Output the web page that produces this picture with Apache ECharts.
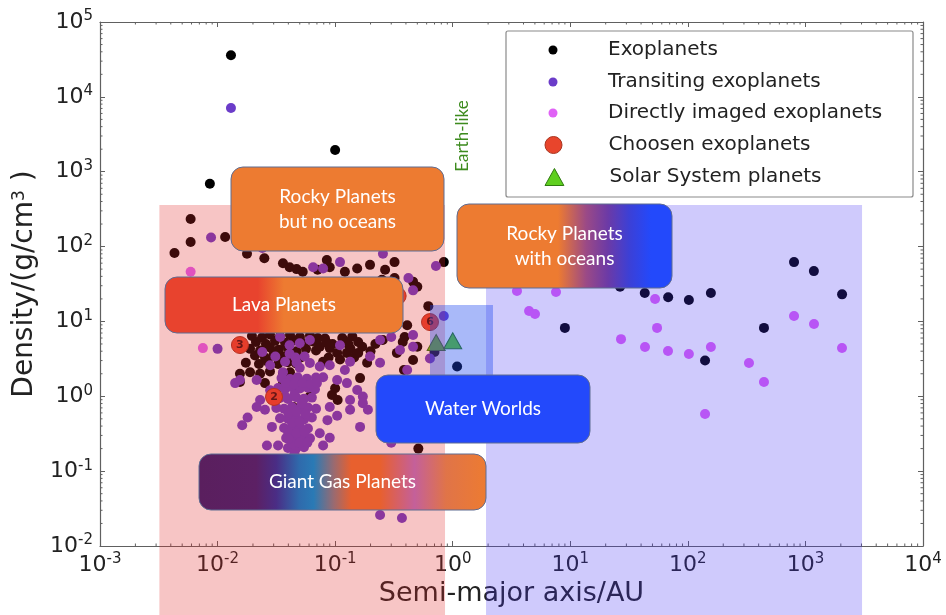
<!DOCTYPE html>
<html><head><meta charset="utf-8">
<script src="https://cdn.jsdelivr.net/npm/echarts@6/dist/echarts.min.js"></script>
<style>html,body{margin:0;padding:0;background:#fff}#c{width:946px;height:615px}</style>
</head><body><div id="c"></div>
<script>
// ---------------- DATA (semi-major axis [AU], density [g/cm^3]) ----------------
const exoplanets = [
 [0.013,36000],[0.10,1950],[0.0086,690],[0.84,62],[1.09,2.5],
 [26.5,29],[43,24],[68,21],[102,19.3],[157,24],[9.0,8.2],[140,3.0],[800,62],[1180,47],[2050,23],[444,8.2],
 [0.0059,233],[0.0059,115],[0.0043,82],[0.0116,134],[0.0178,80],[0.036,60],[0.041,53],[0.047,50],[0.053,46],
 [0.085,66],[0.090,53],[0.071,49],[0.154,51],[0.198,57],[0.46,34],[0.50,29],[0.62,16],[0.41,8.9],[0.39,6.2],
 [0.025,70],[0.121,46],[0.266,49],[0.32,62],[0.25,36],[0.32,38],
 [0.0196,6.4],[0.0239,6.1],[0.0279,6.7],[0.034,6.3],[0.0413,6.6],[0.0502,6.2],[0.0611,6.5],[0.0711,6.0],
 [0.0212,5.3],[0.0258,5.0],[0.0308,5.5],[0.0375,5.2],[0.0447,5.6],[0.053,5.1],[0.0645,5.4],
 [0.0189,4.3],[0.023,4.1],[0.0279,4.5],[0.0332,4.2],[0.0397,4.4],[0.047,4.0],[0.0565,4.3],[0.0688,4.1],
 [0.0208,3.5],[0.0253,3.3],[0.0299,3.6],[0.0361,3.4],[0.043,3.5],[0.0511,3.3],
 [0.0174,2.8],[0.0225,2.7],[0.0268,2.9],[0.0327,2.7],[0.0397,2.85],[0.0465,2.75],
 [0.0155,2.0],[0.0189,2.1],[0.023,2.0],[0.0279,2.15],[0.0361,2.0],[0.0413,2.1],
 [0.048,1.65],[0.036,1.48],[0.0253,1.5],[0.0155,1.55],
 [0.082,5.9],[0.095,5.0],[0.115,6.0],[0.13,4.9],[0.14,6.3],[0.088,3.3],[0.11,3.1],
 [0.12,5.5],[0.135,4.3],[0.145,3.3],[0.17,4.6],[0.2,4.0],[0.22,5.0],[0.09,4.4],[0.085,5.2],
 [0.074,4.6],[0.079,2.9],[0.104,3.8],[0.126,3.8],[0.157,5.3],[0.157,3.8],[0.187,2.8],[0.163,1.75],
 [0.254,5.65],[0.376,5.3],[0.46,3.05],[0.385,2.24],[0.335,3.8],[0.50,4.6],[0.10,1.28],[0.094,1.04],
 [0.105,0.89],[0.51,0.2],[0.70,3.9],[0.061,1.0],[0.044,0.72]
];
const transiting = [
 [0.013,7100],[0.72,55],[0.84,11.8],[0.64,3.2],[0.30,0.24],[0.241,0.026],[0.37,0.0237],[0.0088,132],[0.010,4.3],
 [0.024,96],[0.065,53],[0.079,51],[0.110,62],[0.255,80],[0.42,38],[0.46,26],
 [0.241,5.65],[0.30,6.2],[0.46,6.6],[0.356,4.15],[0.198,3.4],[0.134,2.9],[0.090,2.6],[0.050,5.1],[0.041,3.7],
 [0.047,2.8],[0.036,2.1],[0.241,2.8],[0.26,1.1],[0.293,1.33],[0.46,4.6],[0.41,2.24],
 [0.035,1.75],[0.0413,1.7],[0.048,1.8],[0.0575,1.72],[0.0687,1.78],
 [0.0327,1.29],[0.0375,1.25],[0.043,1.32],[0.0502,1.27],[0.0587,1.3],[0.0674,1.24],
 [0.034,0.95],[0.0397,0.92],[0.0465,0.97],[0.0543,0.93],[0.0634,0.96],
 [0.0316,0.70],[0.0368,0.68],[0.043,0.72],[0.0502,0.69],[0.0587,0.71],[0.0688,0.68],
 [0.034,0.51],[0.0397,0.50],[0.0465,0.53],[0.0543,0.49],[0.0634,0.52],
 [0.0368,0.377],[0.043,0.37],[0.0502,0.385],[0.0587,0.372],
 [0.0383,0.277],[0.0447,0.27],[0.0522,0.283],[0.0611,0.274],
 [0.0397,0.204],[0.0465,0.2],[0.0543,0.208],
 [0.0375,1.0],[0.045,1.05],[0.052,0.8],[0.040,0.6],[0.047,0.62],[0.056,0.58],[0.043,0.44],[0.050,0.45],
 [0.04,0.32],[0.047,0.32],[0.055,0.33],[0.043,0.235],[0.05,0.24],[0.058,0.24],[0.045,0.17],
 [0.038,1.5],[0.045,1.45],[0.053,1.5],[0.062,1.45],
 [0.046,3.3],[0.050,2.4],[0.061,2.78],[0.074,2.5],[0.079,1.8],[0.070,1.5],[0.104,1.65],[0.126,1.5],
 [0.154,1.21],[0.134,0.89],[0.172,0.99],[0.090,0.72],[0.104,0.55],[0.086,0.48],[0.074,0.32],[0.090,0.28],
 [0.079,0.22],[0.134,0.66],[0.172,0.81],[0.19,0.66],[0.163,0.39],
 [0.0155,1.65],[0.0141,1.5],[0.0215,1.65],[0.023,0.89],[0.0215,0.72],[0.0253,0.66],[0.018,0.52],[0.0162,0.41],
 [0.029,0.39],[0.0263,0.22],[0.0327,0.22],[0.040,0.27],[0.028,1.2],
 [0.041,4.8],[0.031,3.4],[0.055,3.4],[0.0375,2.9],[0.061,5.65],[0.110,4.8],[0.121,2.24],[0.028,2.6],[0.024,3.9],[0.034,6.2]
];
const directlyImaged = [
 [0.0059,46],[0.0075,4.4],
 [3.52,25.5],[7.56,24.7],[4.46,13.8],[5.01,12.6],[52.6,19.9],[54.7,8.2],[27.0,5.8],[43.2,4.55],[67.8,4.03],
 [102,3.67],[157,4.55],[331,2.79],[444,1.55],[140,0.58],[800,11.8],[1183,9.25],[2047,4.41]
];
const chosenPoints = [[0.0155,4.84],[0.0302,0.98],[0.641,9.8],[0.34,21.9]];
const chosenLabels = ['3','2','6','5'];
const solarSystem = [[0.723,5.24],[1.0,5.51]];
const seriesNames = ['Exoplanets','Transiting exoplanets','Directly imaged exoplanets','Choosen exoplanets','Solar System planets'];
const xRange = [0.001, 10000];
const yRange = [0.01, 100000];
// shaded zones: [xFrom, xTo, yTop, yBottom(null = to figure bottom)]
const zoneRocky = [0.0032, 0.86, 360, null];
const zoneOuter = [1.92, 3030, 360, null];
const zoneHabitable = [0.641, 2.2, 16.6, 1.7];

// ---------------- CHART ----------------
const FONT = "'DejaVu Sans', sans-serif";
const BOXFONT = "Lato, 'Open Sans', sans-serif";
const AXC = '#606060';
const expLabel = v => '{b|10}{e|' + Math.round(Math.log10(v)) + '}';
const richLab = {
  b: {fontSize: 22, fontFamily: FONT, color: '#222', lineHeight: 26},
  e: {fontSize: 15, fontFamily: FONT, color: '#222', verticalAlign: 'top', lineHeight: 15}
};
function logAxis(pos, isX, show) {
  return {
    type: 'log', logBase: 10, min: isX ? xRange[0] : yRange[0], max: isX ? xRange[1] : yRange[1],
    position: pos, splitLine: {show: false},
    axisLine: {show: true, onZero: false, lineStyle: {color: AXC, width: 1.2}},
    axisTick: {show: true, inside: true, length: 5, lineStyle: {color: AXC, width: 1}},
    axisLabel: {show: show, formatter: expLabel, rich: richLab, margin: isX ? 6 : 7, showMinLabel: true, showMaxLabel: true}
  };
}
const xAxis0 = logAxis('bottom', true, true);
xAxis0.name = 'Semi-major axis/AU';
xAxis0.nameLocation = 'middle';
xAxis0.nameGap = 33;
xAxis0.nameTextStyle = {fontSize: 27, fontFamily: FONT, color: '#222'};
const yAxis0 = logAxis('left', false, true);
yAxis0.name = 'Density/(g/cm{s|3} )';
yAxis0.nameLocation = 'middle';
yAxis0.nameGap = 56;
yAxis0.nameTextStyle = {fontSize: 28, fontFamily: FONT, color: '#222',
  rich: {s: {fontSize: 17, fontFamily: FONT, color: '#222', verticalAlign: 'top'}}};

const legendRows = [50, 82, 113, 145, 177];
const legendIcons = [
  {icon: 'circle', size: 9, itemStyle: {borderWidth: 0}},
  {icon: 'circle', size: 9, itemStyle: {borderWidth: 0}},
  {icon: 'circle', size: 9, itemStyle: {borderWidth: 0}},
  {icon: 'circle', size: 17, itemStyle: {borderWidth: 1, borderColor: '#a83520'}},
  {icon: 'path://M10,0L20,18L0,18Z', size: 17, itemStyle: {borderWidth: 1, borderColor: '#2f7a10'}}
];
const legends = seriesNames.map((n, i) => ({
  data: [n], orient: 'horizontal', selectedMode: false, padding: 0, symbolKeepAspect: true,
  left: 553 - legendIcons[i].size / 2, top: legendRows[i] - 11,
  itemWidth: 100, itemHeight: legendIcons[i].size, icon: legendIcons[i].icon,
  itemStyle: legendIcons[i].itemStyle,
  textStyle: {fontSize: 20, fontFamily: FONT, color: '#222', lineHeight: 22}
}));

const option = {
  animation: false,
  backgroundColor: '#fff',
  grid: {left: 100, right: 23, top: 22, bottom: 69, containLabel: false, outerBoundsMode: 'none'},
  xAxis: [xAxis0, logAxis('top', true, false)],
  yAxis: [yAxis0, logAxis('right', false, false)],
  legend: legends,
  series: [
    {name: seriesNames[0], type: 'scatter', data: exoplanets, symbolSize: 10, z: 2,
     itemStyle: {color: '#000', opacity: 1}, emphasis: {disabled: true}},
    {name: seriesNames[1], type: 'scatter', data: transiting, symbolSize: 10, z: 3,
     itemStyle: {color: '#6b3cc9', opacity: 1}, emphasis: {disabled: true}},
    {name: seriesNames[2], type: 'scatter', data: directlyImaged, symbolSize: 10, z: 4,
     itemStyle: {color: '#e062f6', opacity: 1}, emphasis: {disabled: true}},
    {name: seriesNames[3], type: 'scatter', z: 5,
     data: chosenPoints.map((p, i) => ({value: p, name: chosenLabels[i]})), symbolSize: 17,
     itemStyle: {color: '#e8452c', borderColor: '#a83520', borderWidth: 1, opacity: 1},
     label: {show: true, position: 'inside', formatter: '{b}', fontSize: 11, fontWeight: 'bold', color: '#3a1010', fontFamily: FONT},
     emphasis: {disabled: true}},
    {name: seriesNames[4], type: 'scatter', data: solarSystem, symbol: 'triangle', symbolSize: [18, 16], z: 6,
     itemStyle: {color: '#5fcf1f', borderColor: '#2f7a10', borderWidth: 1, opacity: 1}, emphasis: {disabled: true}}
  ]
};
const chart = echarts.init(document.getElementById('c'), null, {renderer: 'canvas'});
chart.setOption(option);

// ---------------- ANNOTATIONS ----------------
const px = v => chart.convertToPixel({xAxisIndex: 0}, v);
const py = v => chart.convertToPixel({yAxisIndex: 0}, v);
const H = chart.getHeight();
const gL = px(xRange[0]), gR = px(xRange[1]), gT = py(yRange[1]), gB = py(yRange[0]);
const G = [];
function zoneRect(z, fill) {
  const x0 = px(z[0]), x1 = px(z[1]), y0 = py(z[2]), y1 = z[3] == null ? H : py(z[3]);
  G.push({type: 'rect', z: 50, silent: true, shape: {x: x0, y: y0, width: x1 - x0, height: y1 - y0}, style: {fill: fill}});
}
zoneRect(zoneRocky, 'rgba(225,40,40,0.27)');
zoneRect(zoneOuter, 'rgba(70,50,245,0.26)');
zoneRect(zoneHabitable, 'rgba(30,70,240,0.38)');
// minor ticks (log positions 2..9)
for (let d = -3; d < 4; d++) for (let k = 2; k < 10; k++) {
  const x = px(k * Math.pow(10, d));
  G.push({type: 'line', z: 10, silent: true, shape: {x1: x, y1: gB, x2: x, y2: gB - 2.5}, style: {stroke: AXC, lineWidth: 1}});
  G.push({type: 'line', z: 10, silent: true, shape: {x1: x, y1: gT, x2: x, y2: gT + 2.5}, style: {stroke: AXC, lineWidth: 1}});
}
for (let d = -2; d < 5; d++) for (let k = 2; k < 10; k++) {
  const y = py(k * Math.pow(10, d));
  G.push({type: 'line', z: 10, silent: true, shape: {x1: gL, y1: y, x2: gL + 2.5, y2: y}, style: {stroke: AXC, lineWidth: 1}});
  G.push({type: 'line', z: 10, silent: true, shape: {x1: gR, y1: y, x2: gR - 2.5, y2: y}, style: {stroke: AXC, lineWidth: 1}});
}
// legend frame
G.push({type: 'rect', z: 3, silent: true, shape: {x: 506, y: 31, width: 407, height: 166, r: 2},
  style: {fill: '#fff', stroke: '#8a8a8a', lineWidth: 1.2}});
// category boxes
const ORANGE = '#ed7b31', BLUE = '#2349fb';
const grad = stops => ({type: 'linear', x: 0, y: 0, x2: 1, y2: 0,
  colorStops: stops.map(s => ({offset: s[0], color: s[1]}))});
const boxes = [
  {x: 231, y: 167, w: 213, h: 84, text: 'Rocky Planets\nbut no oceans', fill: ORANGE},
  {x: 457, y: 204, w: 215, h: 84, text: 'Rocky Planets\nwith oceans',
   fill: grad([[0, ORANGE], [0.47, ORANGE], [0.6, '#9b4a86'], [0.7, '#6c3aa6'], [0.8, '#3c40d6'], [0.9, BLUE], [1, BLUE]])},
  {x: 165, y: 277, w: 238, h: 56, text: 'Lava Planets',
   fill: grad([[0, '#e8432e'], [0.39, '#e8432e'], [0.5, ORANGE], [1, ORANGE]])},
  {x: 376, y: 375, w: 214, h: 68, text: 'Water Worlds', fill: BLUE},
  {x: 199, y: 454, w: 287, h: 56, text: 'Giant Gas Planets',
   fill: grad([[0, '#5a1f5e'], [0.2, '#5c2064'], [0.27, '#4a2d85'], [0.35, '#2f6aac'], [0.4, '#2a7ab5'],
               [0.47, '#9a6a70'], [0.53, '#e8602e'], [0.63, '#e8602e'], [0.75, '#c4609a'], [0.86, '#e07448'], [1, ORANGE]])}
];
boxes.forEach(b => {
  G.push({type: 'rect', z: 60, silent: true, shape: {x: b.x, y: b.y, width: b.w, height: b.h, r: 12},
    style: {fill: b.fill, stroke: '#5f6c92', lineWidth: 1}});
  G.push({type: 'text', z: 61, silent: true, x: b.x + b.w / 2, y: b.y + b.h / 2,
    style: {text: b.text, fill: '#fff', fontSize: 19, fontFamily: BOXFONT,
      textAlign: 'center', textVerticalAlign: 'middle', verticalAlign: 'middle', align: 'center', lineHeight: 25}});
});
G.push({type: 'text', z: 61, silent: true, x: 463, y: 136, rotation: Math.PI / 2,
  style: {text: 'Earth-like', fill: '#3d8b1e', fontSize: 17, fontFamily: BOXFONT,
    textAlign: 'center', align: 'center', textVerticalAlign: 'middle', verticalAlign: 'middle'}});
chart.setOption({graphic: {elements: G}});
</script>
</body></html>
